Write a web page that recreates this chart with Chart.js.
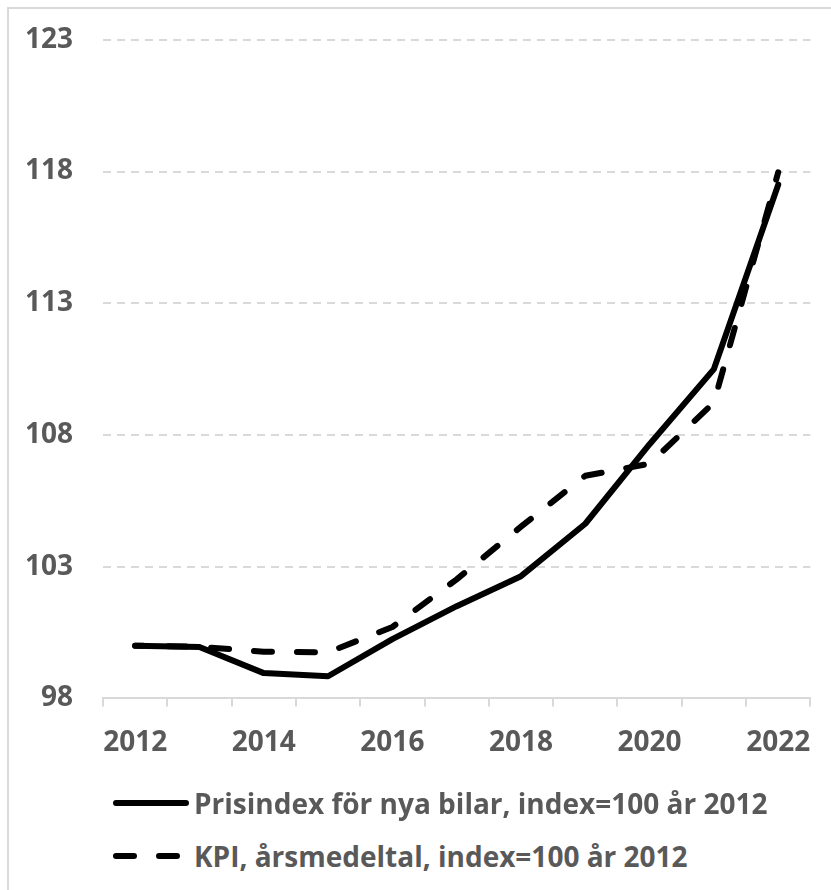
<!DOCTYPE html>
<html>
<head>
<meta charset="utf-8">
<script src="https://cdn.jsdelivr.net/npm/chart.js"></script>
<style>
  body { margin: 0; background: #fff; }
  #frame {
    position: absolute; left: 7px; top: 7px; width: 900px; height: 950px;
    border-left: 2px solid #d9d9d9; border-top: 2px solid #d9d9d9;
  }
  #myChart { position: absolute; left: 0; top: 0; }
  .row {
    position: absolute; left: 112px; height: 40px;
    display: flex; align-items: center; white-space: nowrap;
    font: 700 28px 'Open Sans', sans-serif; color: #595959;
  }
  .row svg { margin-right: 4px; }
</style>
</head>
<body>
<div id="frame"></div>
<canvas id="myChart" width="831" height="790"></canvas>
<div id="legend"></div>
<script>
const years = ['2012', '2013', '2014', '2015', '2016', '2017', '2018', '2019', '2020', '2021', '2022'];
const nyaBilar = [100.0, 99.95, 98.96, 98.84, 100.25, 101.5, 102.64, 104.63, 107.65, 110.5, 117.5];
const kpi = [100.0, 99.96, 99.77, 99.75, 100.71, 102.52, 104.52, 106.45, 106.91, 109.23, 117.97];
const yTicks = [98, 103, 108, 113, 118, 123];
const seriesNames = ['Prisindex för nya bilar, index=100 år 2012', 'KPI, årsmedeltal, index=100 år 2012'];

const FONT = "'Open Sans', sans-serif";
const GREY = '#595959';
const LINE = '#d9d9d9';
const tickFont = { family: FONT, size: 28, weight: 700 };

const data = {
  labels: years,
  datasets: [{
    label: seriesNames[0],
    data: nyaBilar,
    borderColor: '#000',
    borderWidth: 6,
    borderCapStyle: 'round',
    borderJoinStyle: 'round',
    pointRadius: 0,
    fill: false
  }, {
    label: seriesNames[1],
    data: kpi,
    borderColor: '#000',
    borderWidth: 6,
    borderDash: [18, 25],
    borderDashOffset: 10,
    borderCapStyle: 'round',
    borderJoinStyle: 'round',
    pointRadius: 0,
    fill: false
  }]
};

const chart = new Chart('myChart', {
  type: 'line',
  data: data,
  options: {
    responsive: false,
    animation: false,
    layout: { padding: { left: 27, right: 17, top: 20, bottom: 10 } },
    plugins: {
      legend: { display: false },
      tooltip: { enabled: false }
    },
    scales: {
      x: {
        offset: true,
        grid: {
          offset: true,
          drawOnChartArea: false,
          drawTicks: true,
          tickLength: 8,
          color: LINE,
          lineWidth: 2
        },
        border: { display: true, color: LINE, width: 2 },
        ticks: {
          autoSkip: false,
          maxRotation: 0,
          padding: 20,
          color: GREY,
          font: tickFont,
          callback: (val, i) => i % 2 === 0 ? years[i] : ''
        }
      },
      y: {
        min: yTicks[0],
        max: yTicks[yTicks.length - 1],
        afterBuildTicks: scale => { scale.ticks = yTicks.map(v => ({ value: v })); },
        afterFit: scale => { scale.width = 76; },
        // invisible tick marks keep the labels away from the plot
        grid: { drawTicks: true, tickLength: 7, tickColor: 'transparent', color: LINE, lineWidth: 2 },
        border: { display: false, dash: [8, 6] },
        ticks: {
          padding: 23,
          color: GREY,
          font: tickFont
        }
      }
    }
  }
});

// legend rows built from the datasets
const legendTops = [783, 836];
chart.data.datasets.forEach((ds, i) => {
  const row = document.createElement('div');
  row.className = 'row';
  row.style.top = legendTops[i] + 'px';
  const dash = ds.borderDash ? ds.borderDash.join(' ') : 'none';
  row.innerHTML =
    '<svg width="78" height="12"><line x1="4" y1="6" x2="74" y2="6" stroke="' + ds.borderColor +
    '" stroke-width="' + ds.borderWidth + '" stroke-linecap="round" stroke-dasharray="' + dash + '"/></svg>' +
    '<span>' + ds.label + '</span>';
  document.getElementById('legend').appendChild(row);
});
</script>
</body>
</html>
